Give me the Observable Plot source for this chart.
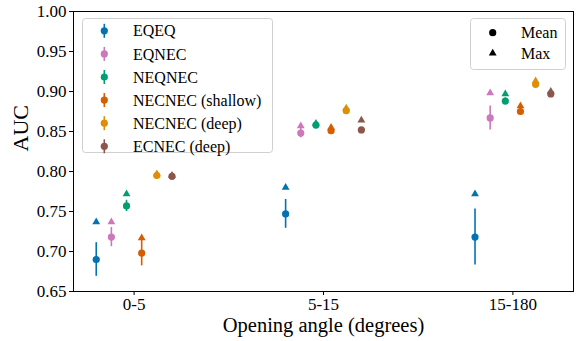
<!DOCTYPE html>
<html>
<head>
<meta charset="utf-8">
<script src="https://cdn.jsdelivr.net/npm/d3@7"></script>
<script src="https://cdn.jsdelivr.net/npm/@observablehq/plot@0.6"></script>
<style>
  html, body { margin: 0; padding: 0; background: #fff; }
  #chart svg { display: block; }
  #chart svg text { font-family: 'Liberation Serif', 'DejaVu Serif', serif !important; }
</style>
</head>
<body>
<div id="chart"></div>
<script>
// ---- data ----
const categories = ["0-5", "5-15", "15-180"];
const series = ["EQEQ", "EQNEC", "NEQNEC", "NECNEC (shallow)", "NECNEC (deep)", "ECNEC (deep)"];
const colors = ["#0173b2", "#cc78bc", "#029e73", "#d55e00", "#de8f05", "#8c564b"];
// per series, values for the three categories
const meanAUC = [
  [0.690, 0.747, 0.718],
  [0.718, 0.848, 0.867],
  [0.757, 0.858, 0.888],
  [0.698, 0.851, 0.875],
  [0.795, 0.876, 0.909],
  [0.794, 0.852, 0.897]
];
const errAUC = [
  [0.021, 0.018, 0.035],
  [0.012, 0.006, 0.015],
  [0.007, 0.003, 0.004],
  [0.016, 0.003, 0.004],
  [0.002, 0.003, 0.003],
  [0.002, 0.002, 0.003]
];
const maxAUC = [
  [0.737, 0.780, 0.772],
  [0.737, 0.857, 0.898],
  [0.772, 0.860, 0.897],
  [0.717, 0.855, 0.882],
  [0.797, 0.879, 0.913],
  [0.795, 0.864, 0.900]
];
const yTicks = [0.65, 0.70, 0.75, 0.80, 0.85, 0.90, 0.95, 1.00];
const groupStep = 0.08;

// ---- build table ----
const rows = [];
series.forEach((s, si) => {
  categories.forEach((c, ci) => {
    rows.push({
      series: s,
      category: c,
      pos: ci + (si - (series.length - 1) / 2) * groupStep,
      mean: meanAUC[si][ci],
      lo: meanAUC[si][ci] - errAUC[si][ci],
      hi: meanAUC[si][ci] + errAUC[si][ci],
      max: maxAUC[si][ci]
    });
  });
});

const chart = Plot.plot({
  width: 576,
  height: 341,
  marginLeft: 73,
  marginRight: 3,
  marginTop: 11,
  marginBottom: 50,
  style: { fontSize: "17px", color: "#000", background: "#fff" },
  x: { domain: [-0.32, 2.32], label: null },
  y: { domain: [0.65, 1.0], label: null },
  color: { domain: series, range: colors },
  marks: [
    Plot.axisX({ ticks: [0, 1, 2], tickFormat: i => categories[i], tickSize: 4, tickPadding: 2, fontSize: 17, label: null }),
    Plot.axisY({ ticks: yTicks, tickFormat: d3.format(".2f"), tickSize: 4, tickPadding: 3, fontSize: 17, label: null }),
    Plot.ruleX(rows, { x: "pos", y1: "lo", y2: "hi", stroke: "series", strokeWidth: 1.6 }),
    Plot.dot(rows, { x: "pos", y: "mean", fill: "series", r: 3.6, symbol: "circle" }),
    Plot.dot(rows, { x: "pos", y: "max", fill: "series", r: 2.9, symbol: "triangle" }),
    Plot.frame({ stroke: "#000", strokeWidth: 1 }),
    Plot.text(["Opening angle (degrees)"], { frameAnchor: "bottom", dy: 40, fontSize: 20.5, fill: "#000" }),
    Plot.text(["AUC"], { frameAnchor: "left", dx: -53, rotate: -90, fontSize: 22, fill: "#000" })
  ]
});

document.getElementById("chart").appendChild(chart);

// ---- legends drawn inside the svg ----
const svg = d3.select(chart);

// series legend
const g1 = svg.append("g").attr("font-size", 16).attr("text-anchor", "start");
g1.append("rect")
  .attr("x", 82.5).attr("y", 18.5).attr("width", 190).attr("height", 134)
  .attr("rx", 3).attr("fill", "#fff").attr("fill-opacity", 0.8)
  .attr("stroke", "#d0d0d0");
series.forEach((s, i) => {
  const y = 30.8 + i * 23.1;
  g1.append("line").attr("x1", 104.3).attr("x2", 104.3).attr("y1", y - 7).attr("y2", y + 7)
    .attr("stroke", colors[i]).attr("stroke-width", 1.6);
  g1.append("circle").attr("cx", 104.3).attr("cy", y).attr("r", 3.6).attr("fill", colors[i]);
  g1.append("text").attr("x", 133).attr("y", y).attr("dy", "0.35em").attr("fill", "#000").text(s);
});

// marker legend
const g2 = svg.append("g").attr("font-size", 16).attr("text-anchor", "start");
g2.append("rect")
  .attr("x", 470.5).attr("y", 18.5).attr("width", 95).attr("height", 51)
  .attr("rx", 3).attr("fill", "#fff").attr("fill-opacity", 0.8)
  .attr("stroke", "#d0d0d0");
const markerLegend = [["Mean", d3.symbolCircle, 3.6], ["Max", d3.symbolTriangle, 2.9]];
markerLegend.forEach(([label, type, r], i) => {
  const y = 32.7 + i * 20.6;
  g2.append("path")
    .attr("transform", `translate(492.7,${y})`)
    .attr("d", d3.symbol(type, Math.PI * r * r)())
    .attr("fill", "#000");
  g2.append("text").attr("x", 521).attr("y", y).attr("dy", "0.35em").attr("fill", "#000").text(label);
});
</script>
</body>
</html>
